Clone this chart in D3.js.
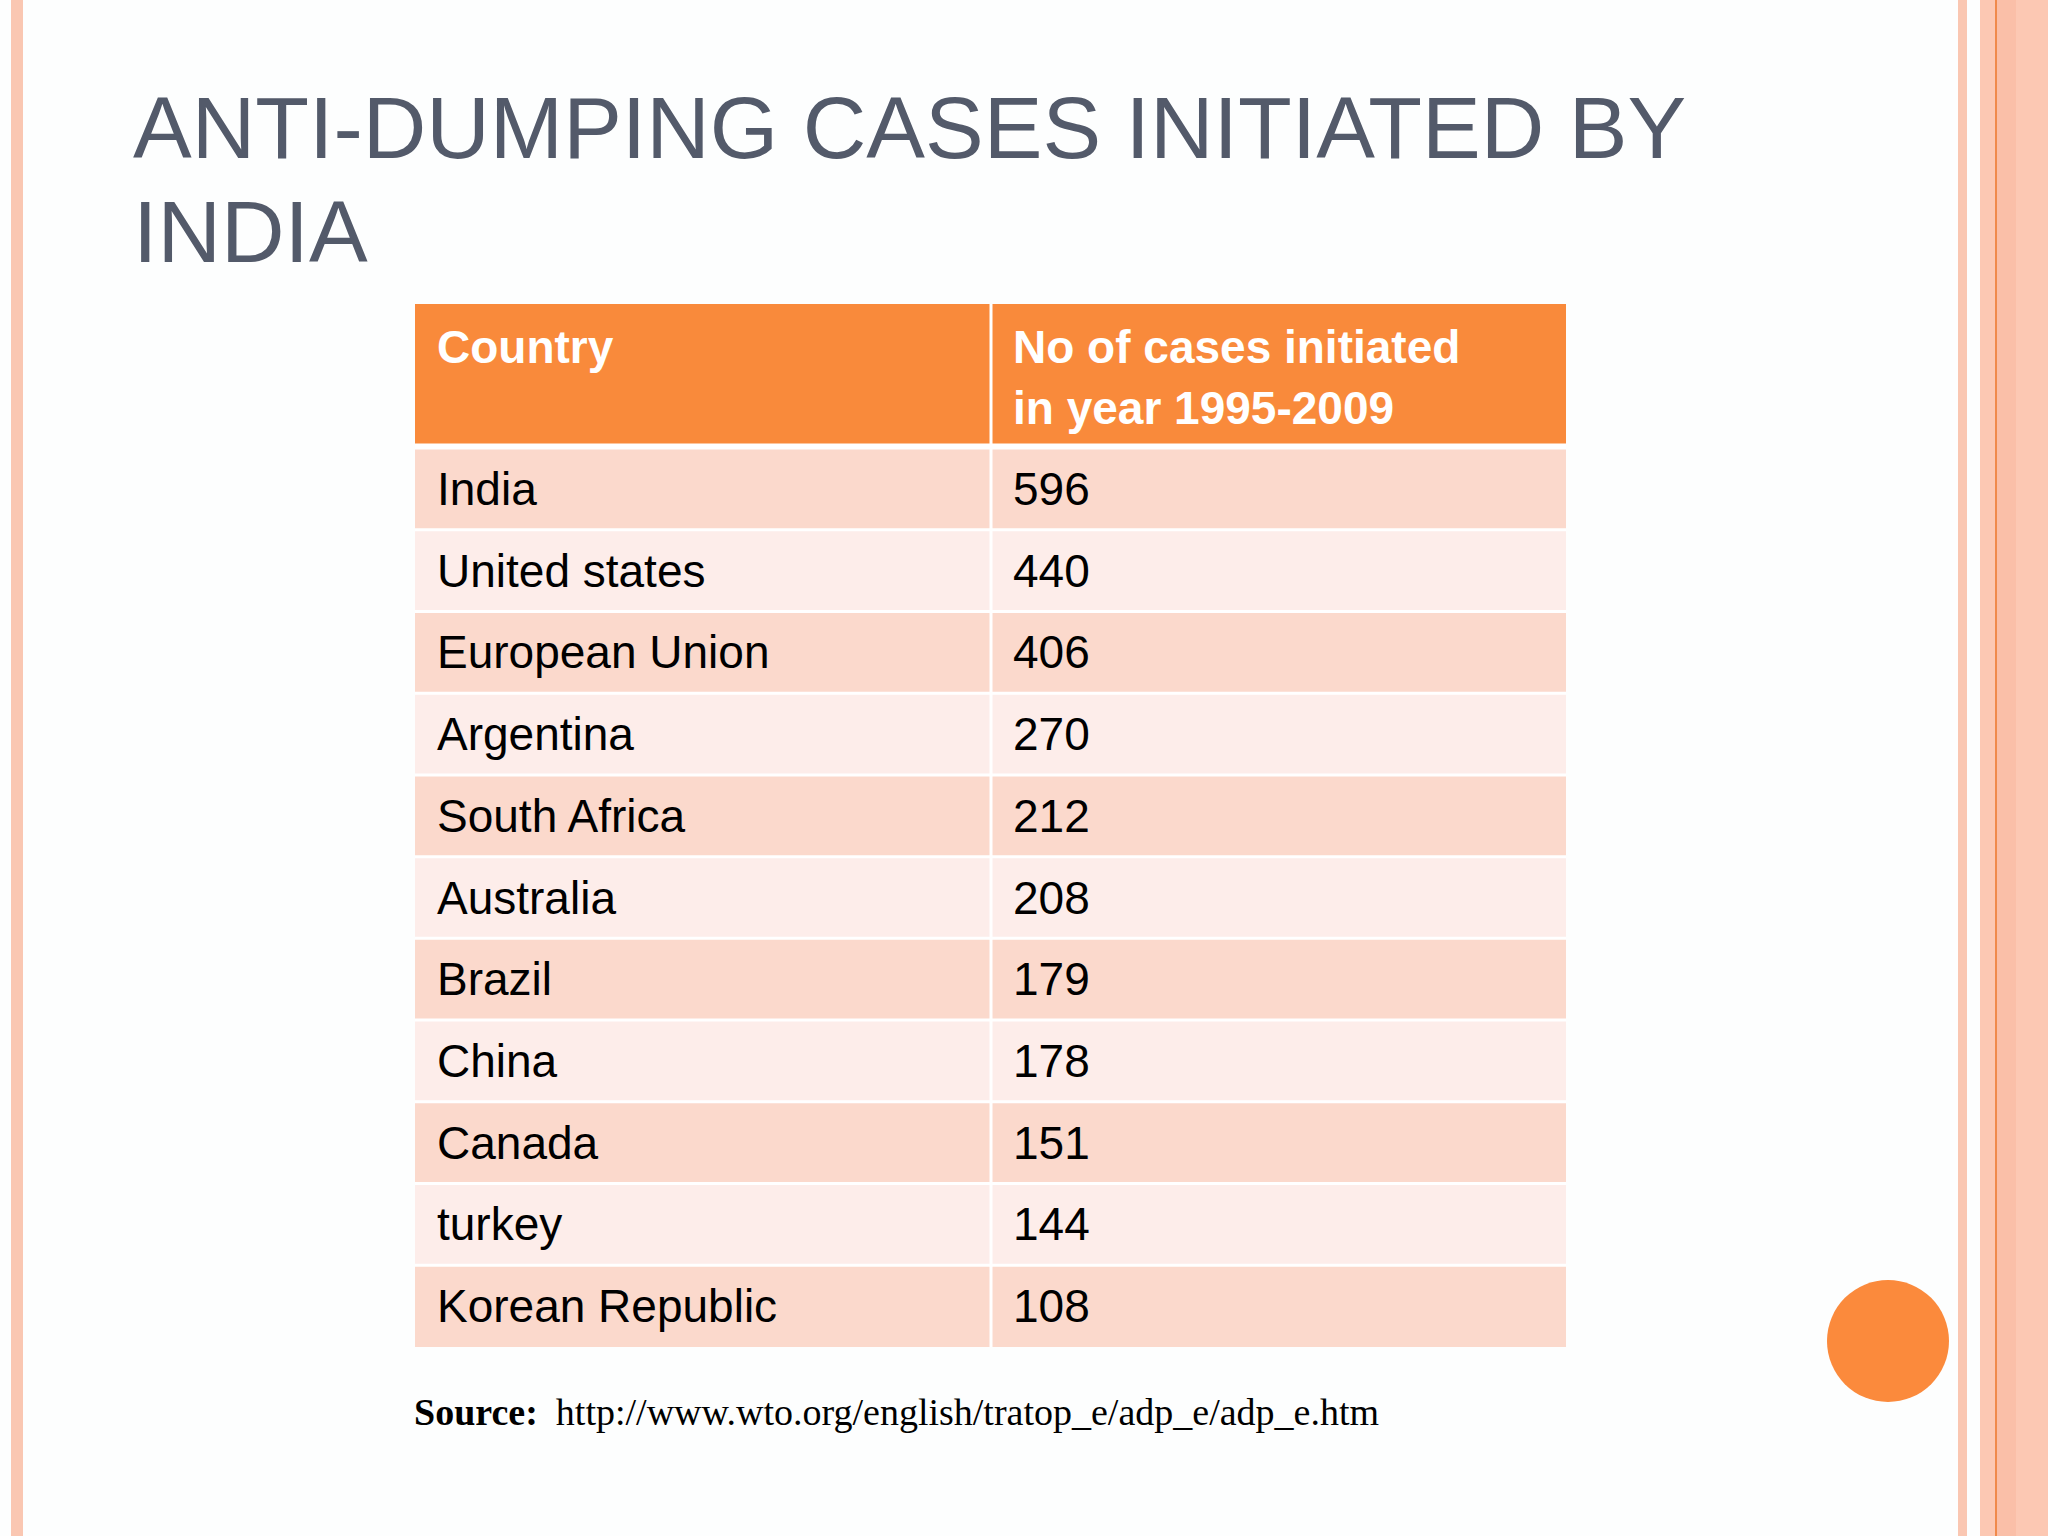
<!DOCTYPE html><html><head><meta charset="utf-8"><script src="https://cdn.jsdelivr.net/npm/d3@7"></script>
<style>body{margin:0;background:#fff}</style></head><body><svg id="c" width="2048" height="1536"></svg>
<script>
const headers=["Country","No of cases initiated|in year 1995-2009"];
const countries=["India","United states","European Union","Argentina","South Africa","Australia","Brazil","China","Canada","turkey","Korean Republic"];
const cases=[596,440,406,270,212,208,179,178,151,144,108];
(function(){
const svg=d3.select("#c");
svg.append("rect").attr("width",2048).attr("height",1536).attr("fill","#fdfefe");
svg.append("rect").attr("x",11).attr("width",12).attr("height",1536).attr("fill","#fac7b2");
svg.append("rect").attr("x",1958).attr("width",9).attr("height",1536).attr("fill","#fac7b2");
svg.append("rect").attr("x",1980).attr("width",68).attr("height",1536).attr("fill","#fcc8b3");
svg.append("rect").attr("x",1996).attr("width",20).attr("height",1536).attr("fill","#fabfa8");
svg.append("rect").attr("x",1995).attr("width",2).attr("height",1536).attr("fill","#f08a4b");
const t=svg.append("text").attr("font-family","Liberation Sans, Arial").attr("font-size",88).attr("fill","#535a6a");
t.append("tspan").attr("x",133).attr("y",158).text("ANTI-DUMPING CASES INITIATED BY");
t.append("tspan").attr("x",133).attr("y",262).text("INDIA");
const x0=415,x1=991,x2=1566,tTop=304,hb=444;
const y=d3.scaleBand().domain(countries).range([448,1347]).paddingInner(0);
svg.append("rect").attr("x",x0).attr("y",tTop).attr("width",x2-x0).attr("height",hb-tTop).attr("fill","#f98a3b");
const g=svg.selectAll("g.r").data(countries).join("g");
g.append("rect").attr("x",x0).attr("y",d=>y(d)).attr("width",x2-x0).attr("height",y.bandwidth()).attr("fill",(d,i)=>i%2?"#fdedea":"#fbd9cc");
g.append("text").attr("x",437).attr("y",d=>y(d)+y.bandwidth()/2+16).text(d=>d);
g.append("text").attr("x",1013).attr("y",d=>y(d)+y.bandwidth()/2+16).text((d,i)=>cases[i]);
g.selectAll("text").attr("font-family","Liberation Sans, Arial").attr("font-size",46).attr("fill","#000");
svg.selectAll("line.h").data(countries).join("line").attr("x1",x0).attr("x2",x2).attr("y1",d=>y(d)).attr("y2",d=>y(d)).attr("stroke","#fff").attr("stroke-width",3);
svg.append("line").attr("x1",x0).attr("x2",x2).attr("y1",hb+2).attr("y2",hb+2).attr("stroke","#fff").attr("stroke-width",5);
svg.append("line").attr("x1",x1).attr("x2",x1).attr("y1",tTop).attr("y2",1347).attr("stroke","#fff").attr("stroke-width",3);
const hf={"font-family":"Liberation Sans, Arial","font-size":46,"font-weight":"bold","fill":"#fff"};
const h1=svg.append("text").attr("x",437).attr("y",363).text(headers[0]);
const h2=svg.append("text");
headers[1].split("|").forEach((s,i)=>h2.append("tspan").attr("x",1013).attr("y",363+61*i).text(s));
[h1,h2].forEach(h=>Object.entries(hf).forEach(([k,v])=>h.attr(k,v)));
const s=svg.append("text").attr("x",414).attr("y",1425).attr("font-family","Liberation Serif, Times New Roman").attr("font-size",38).attr("fill","#000");
s.append("tspan").attr("font-weight","bold").text("Source:");
s.append("tspan").attr("dx",18).text("http://www.wto.org/english/tratop_e/adp_e/adp_e.htm");
svg.append("circle").attr("cx",1888).attr("cy",1341).attr("r",61).attr("fill","#fb8a3c");
})();
</script></body></html>
